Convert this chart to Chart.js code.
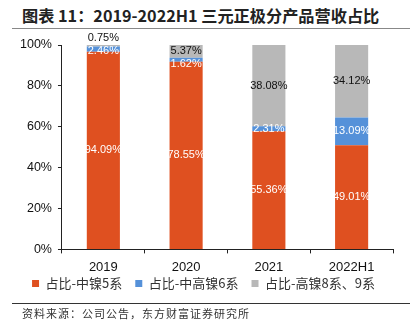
<!DOCTYPE html>
<html>
<head>
<meta charset="utf-8">
<script src="https://cdn.jsdelivr.net/npm/chart.js@4"></script>
<style>
  body { margin: 0; width: 413px; height: 325px; background: #fff; position: relative; overflow: hidden; }
  #title { position: absolute; left: 22px; top: 3px; font: bold 16.2px "Noto Sans CJK SC", sans-serif; color: #222; white-space: nowrap; }
  #topLine { position: absolute; left: 12px; width: 398px; top: 28px; height: 1px; background: #888; }
  #bottomLine { position: absolute; left: 12px; width: 398px; top: 303px; height: 1px; background: #333; }
  #source { position: absolute; left: 22px; top: 305px; font: 11px "Noto Sans CJK SC", sans-serif; letter-spacing: 1px; color: #333; white-space: nowrap; }
  #wrap { position: absolute; left: 0; top: 0; width: 413px; height: 325px; }
</style>
</head>
<body>
<div id="title">图表 11：2019-2022H1 三元正极分产品营收占比</div>
<div id="topLine"></div>
<div id="wrap"><canvas id="chart"></canvas></div>
<div id="bottomLine"></div>
<div id="source">资料来源：公司公告，东方财富证券研究所</div>
<script>
const categories = ['2019', '2020', '2021', '2022H1'];
const seriesNames = ['占比-中镍5系', '占比-中高镍6系', '占比-高镍8系、9系'];
const ni5 = [94.09, 78.55, 55.36, 49.01];
const ni6 = [2.46, 1.62, 2.31, 13.09];
const ni89 = [0.75, 5.37, 38.08, 34.12];
const yTicks = [0, 20, 40, 60, 80, 100];

const colors = ['#DF5020', '#5591D9', '#B8B8B8'];
const labelColors = ['#fff', '#fff', '#111'];
const raw = [ni5, ni6, ni89];

// 100% stacked: normalise each year to its total
const totals = categories.map((_, i) => ni5[i] + ni6[i] + ni89[i]);

const datasets = raw.map((vals, k) => ({
    label: seriesNames[k],
    data: vals.map((v, i) => v / totals[i] * 100),
    backgroundColor: colors[k],
    borderWidth: 0,
    categoryPercentage: 1,
    barPercentage: 0.4
}));

// percent labels drawn on the bars
const barLabels = {
    id: 'barLabels',
    afterDatasetsDraw(chart) {
        const ctx = chart.ctx;
        ctx.save();
        ctx.font = '11px "Liberation Sans", Arial, sans-serif';
        ctx.textAlign = 'center';
        ctx.textBaseline = 'middle';
        categories.forEach((_, i) => {
            let prevY = -Infinity;
            for (let k = raw.length - 1; k >= 0; k--) {
                const bar = chart.getDatasetMeta(k).data[i];
                const h = bar.base - bar.y;
                let y = (bar.y + bar.base) / 2;
                let color = labelColors[k];
                if (k === raw.length - 1 && h < 6) {
                    y = bar.y - 7;
                    color = '#111';
                }
                y = Math.max(y, prevY + 13);
                prevY = y;
                ctx.fillStyle = color;
                ctx.fillText(raw[k][i].toFixed(2) + '%', bar.x, y);
            }
        });
        ctx.restore();
    }
};

// pull the legend a bit closer to the axis labels
const legendShift = {
    id: 'legendShift',
    afterLayout(chart) {
        chart.legend.top -= 17;
        chart.legend.bottom -= 17;
    }
};

new Chart(document.getElementById('chart'), {
    type: 'bar',
    data: { labels: categories, datasets },
    options: {
        responsive: true,
        maintainAspectRatio: false,
        animation: false,
        layout: { padding: { top: 45, left: 14, right: 20, bottom: 8 } },
        scales: {
            x: {
                stacked: true,
                grid: { drawOnChartArea: false, drawTicks: true, tickLength: 4, color: '#222', offset: true },
                border: { display: true, color: '#222', width: 1 },
                ticks: { color: '#111', font: { family: '"Liberation Sans", Arial, sans-serif', size: 13 }, padding: 6 }
            },
            y: {
                stacked: true,
                min: 0,
                max: 100,
                afterBuildTicks: axis => { axis.ticks = yTicks.map(v => ({ value: v })); },
                grid: { drawOnChartArea: false, drawTicks: true, tickLength: 4, color: '#222' },
                border: { display: true, color: '#222', width: 1 },
                ticks: { color: '#111', font: { family: '"Liberation Sans", Arial, sans-serif', size: 12.5 }, padding: 6, callback: v => v + '%' }
            }
        },
        plugins: {
            legend: {
                position: 'bottom',
                labels: {
                    boxWidth: 7,
                    boxHeight: 7,
                    padding: 13,
                    color: '#333',
                    font: { family: '"Noto Sans CJK SC", sans-serif', size: 13 }
                }
            },
            tooltip: { enabled: false }
        }
    },
    plugins: [barLabels, legendShift]
});
</script>
</body>
</html>
